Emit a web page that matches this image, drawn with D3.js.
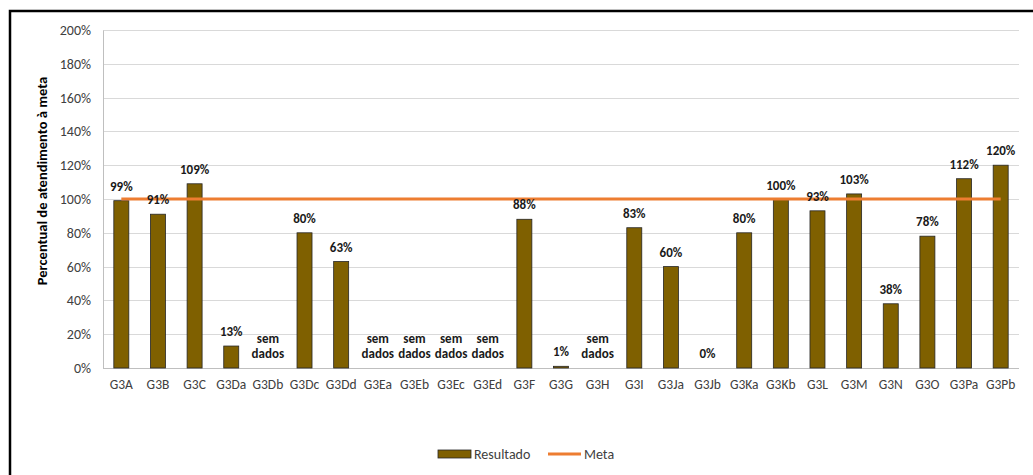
<!DOCTYPE html>
<html><head><meta charset="utf-8">
<script src="https://cdn.jsdelivr.net/npm/d3@7"></script>
<style>body{margin:0;background:#fff;}svg{display:block;}</style>
</head><body>
<svg id="c" width="1033" height="475"></svg>
<script>
const categories = ["G3A","G3B","G3C","G3Da","G3Db","G3Dc","G3Dd","G3Ea","G3Eb","G3Ec","G3Ed","G3F","G3G","G3H","G3I","G3Ja","G3Jb","G3Ka","G3Kb","G3L","G3M","G3N","G3O","G3Pa","G3Pb"];
const resultado = [0.99,0.91,1.09,0.13,null,0.80,0.63,null,null,null,null,0.88,0.01,null,0.83,0.60,0,0.80,0.996,0.93,1.03,0.38,0.78,1.12,1.20];
const resultadoLabels = ["99%","91%","109%","13%","sem dados","80%","63%","sem dados","sem dados","sem dados","sem dados","88%","1%","sem dados","83%","60%","0%","80%","100%","93%","103%","38%","78%","112%","120%"];
const meta = categories.map(() => 1.0);
const yTicks = [0,0.2,0.4,0.6,0.8,1.0,1.2,1.4,1.6,1.8,2.0];
const yTitle = "Percentual de atendimento à meta";
const seriesNames = ["Resultado","Meta"];

const svg = d3.select("#c");
const font = "Calibri, Carlito, Lato, 'Open Sans', sans-serif";
const m = {left:103, right:1019, top:30, bottom:368};
const x = d3.scaleBand().domain(categories).range([m.left, m.right]).paddingInner(0).paddingOuter(0);
const y = d3.scaleLinear().domain([0,2]).range([m.bottom, m.top]);

// frame
svg.append("path").attr("d","M10,475 L10,11 L1033,11").attr("fill","none").attr("stroke","#000").attr("stroke-width",2.5);

// gridlines
svg.append("g").selectAll("line").data(yTicks.filter(d=>d>0)).join("line")
  .attr("x1",m.left).attr("x2",m.right).attr("y1",d=>Math.round(y(d))+0.5).attr("y2",d=>Math.round(y(d))+0.5)
  .attr("stroke","#d9d9d9").attr("stroke-width",1);

// y axis
const ya = svg.append("g").attr("transform",`translate(${m.left},0)`)
  .call(d3.axisLeft(y).tickValues(yTicks).tickFormat(d3.format(".0%")).tickSize(0).tickPadding(12));
ya.select(".domain").attr("stroke","#bfbfbf");
ya.selectAll("text").attr("font-family",font).attr("font-size",14).attr("fill","#404040");

// x axis
const xa = svg.append("g").attr("transform",`translate(0,${m.bottom})`)
  .call(d3.axisBottom(x).tickSize(0).tickPadding(11));
xa.select(".domain").attr("stroke","#bfbfbf").attr("d",`M${m.left},0.5H${m.right}`);
xa.selectAll("text").attr("font-family",font).attr("font-size",13.5).attr("fill","#404040");

// bars
const bw = 15;
svg.append("g").selectAll("rect").data(categories.map((c,i)=>({c,v:resultado[i]})).filter(d=>d.v!==null && d.v>0)).join("rect")
  .attr("x",d=>x(d.c)+x.bandwidth()/2-bw/2).attr("width",bw)
  .attr("y",d=>y(d.v)).attr("height",d=>y(0)-y(d.v))
  .attr("fill","#7f6000").attr("stroke","#262626").attr("stroke-width",0.8);

// meta line
const line = d3.line().x((d,i)=>x(categories[i])+x.bandwidth()/2).y(d=>y(d));
svg.append("path").datum(meta).attr("d",line).attr("fill","none").attr("stroke","#ed7d31").attr("stroke-width",3);

// labels
const lg = svg.append("g").attr("font-family",font).attr("font-size",13).attr("font-weight","bold").attr("fill","#1a1a1a").attr("text-anchor","middle");
categories.forEach((c,i)=>{
  const cx = x(c)+x.bandwidth()/2;
  const v = resultado[i];
  const t = resultadoLabels[i];
  if (v===null){
    const parts = t.split(" ");
    lg.append("text").attr("x",cx).attr("y",y(0)-25).text(parts[0]);
    lg.append("text").attr("x",cx).attr("y",y(0)-10).text(parts[1]);
  } else {
    lg.append("text").attr("x",cx).attr("y",y(v)-10).text(t);
  }
});

// y title
svg.append("text").attr("transform",`translate(47,181) rotate(-90)`).attr("text-anchor","middle")
  .attr("font-family",font).attr("font-size",14.5).attr("font-weight","bold").attr("fill","#000").text(yTitle);

// legend
const leg = svg.append("g");
leg.append("rect").attr("x",438).attr("y",450).attr("width",33).attr("height",8).attr("fill","#7f6000").attr("stroke","#262626").attr("stroke-width",0.8);
leg.append("text").attr("x",474).attr("y",459).attr("font-family",font).attr("font-size",14).attr("fill","#404040").text(seriesNames[0]);
leg.append("line").attr("x1",548).attr("x2",581).attr("y1",454).attr("y2",454).attr("stroke","#ed7d31").attr("stroke-width",3);
leg.append("text").attr("x",584).attr("y",459).attr("font-family",font).attr("font-size",14).attr("fill","#404040").text(seriesNames[1]);
</script>
</body></html>
